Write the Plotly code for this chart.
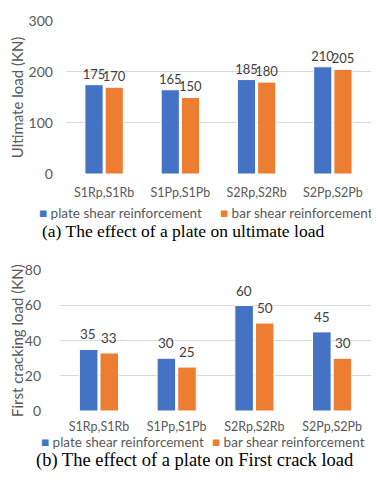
import plotly.graph_objects as go
from plotly.subplots import make_subplots

categories = ["S1Rp,S1Rb", "S1Pp,S1Pb", "S2Rp,S2Rb", "S2Pp,S2Pb"]
ultimate_plate = [175, 165, 185, 210]
ultimate_bar = [170, 150, 180, 205]
crack_plate = [35, 30, 60, 45]
crack_bar = [33, 25, 50, 30]

names = ["plate shear reinforcement", "bar shear reinforcement"]
colors = ["#4472C4", "#ED7D31"]
captions = ["(a) The effect of a plate on ultimate load",
            "(b) The effect of a plate on First crack load"]

# the page body has an 8px margin, so the figure is a little smaller than the window
OFF = 8
W, H = 379 - 2 * OFF, 480 - 2 * OFF
sans = "Lato, 'Open Sans', sans-serif"
grey = "#595959"


def px(x):
    return (x - OFF) / W


def py(y):
    return 1 - (y - OFF) / H


fig = make_subplots(rows=2, cols=1)

# top panel: value labels sit right on top of the bars
for vals, name, col in zip([ultimate_plate, ultimate_bar], names, colors):
    fig.add_trace(go.Bar(
        x=categories, y=vals, name=name,
        marker=dict(color=col, line=dict(color="white", width=1)),
        text=vals, textposition="outside", constraintext="none",
        cliponaxis=False, showlegend=False,
        textfont=dict(family=sans, size=13, color="#404040"),
    ), row=1, col=1)

# bottom panel: labels float a bit higher above the bars
for vals, name, col, shift in zip([crack_plate, crack_bar], names, colors, [-10.5, 10.5]):
    fig.add_trace(go.Bar(
        x=categories, y=vals, name=name,
        marker=dict(color=col, line=dict(color="white", width=1)),
        showlegend=False,
    ), row=2, col=1)
    for c, v in zip(categories, vals):
        fig.add_annotation(x=c, y=v, xref="x2", yref="y2", text=str(v),
                           showarrow=False, xshift=shift, yshift=15,
                           yanchor="middle",
                           font=dict(family=sans, size=13.5, color="#404040"))

fig.update_layout(
    width=W, height=H,
    margin=dict(l=0, r=0, t=0, b=0),
    paper_bgcolor="white", plot_bgcolor="white",
    barmode="group", bargap=0.47, bargroupgap=0.1,
    font=dict(family=sans, color=grey),
)

fig.update_xaxes(showline=False, zeroline=False, ticks="", showgrid=False,
                 tickfont=dict(family=sans, size=12.5, color=grey))
fig.update_yaxes(showline=False, zeroline=False, ticks="", showgrid=True,
                 gridcolor="#d9d9d9", gridwidth=1,
                 tickfont=dict(family=sans, size=14, color=grey))

fig.update_layout(
    xaxis=dict(domain=[px(60), px(371)], ticklabelstandoff=9),
    yaxis=dict(domain=[py(171), py(12)], range=[0, 300], dtick=100,
               ticklabelstandoff=12,
               title=dict(text="Ultimate load (KN)", standoff=6,
                          font=dict(family=sans, size=15, color=grey))),
    xaxis2=dict(domain=[px(54), px(371)], ticklabelstandoff=6),
    yaxis2=dict(domain=[py(417), py(271)], range=[0, 80], dtick=20,
                ticklabelstandoff=18,
                title=dict(text="First cracking load (KN)", standoff=6,
                           font=dict(family=sans, size=15, color=grey))),
)

# legends (compact, Excel style) built from the trace names/colours
legend_rows = [(211, [30, 215]), (449, [32, 207])]
for ypix, xs in legend_rows:
    for xp, name, col in zip(xs, names, colors):
        fig.add_annotation(
            x=px(xp), y=py(ypix), xref="paper", yref="paper",
            xanchor="left", yanchor="middle", showarrow=False,
            text=f"<span style='color:{col}'>■</span> {name}",
            font=dict(family=sans, size=13.5, color=grey),
        )

# captions
for txt, xc, ypix, size in zip(captions, [179, 192], [230, 468], [17.5, 18.5]):
    fig.add_annotation(
        x=px(xc), y=py(ypix), xref="paper", yref="paper",
        xanchor="center", yanchor="middle", showarrow=False,
        text=txt, font=dict(family="'Liberation Serif', 'Times New Roman', serif",
                            size=size, color="black"),
    )

fig.write_html("out.html")
